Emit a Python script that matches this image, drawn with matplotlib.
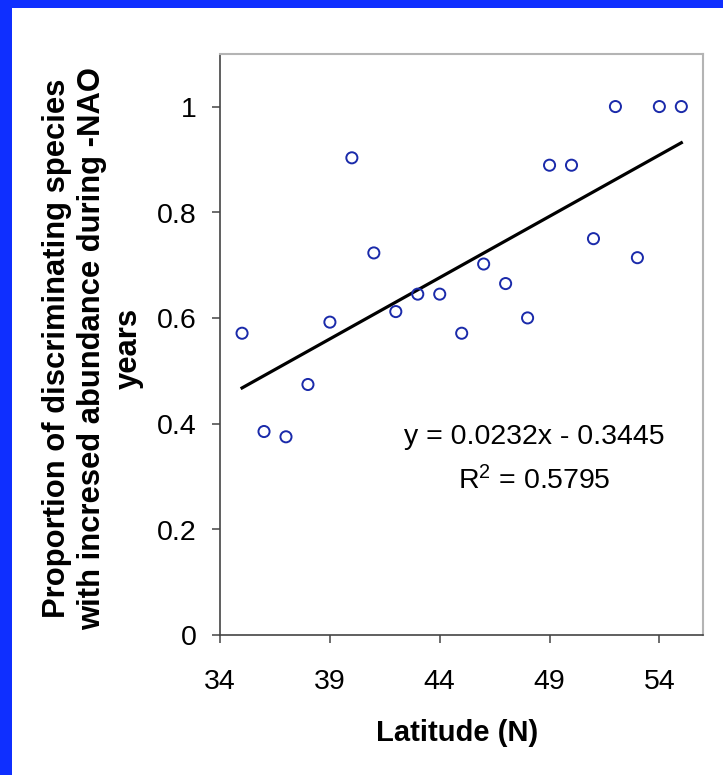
import matplotlib
matplotlib.use("Agg")
import matplotlib.pyplot as plt
from matplotlib.patches import Rectangle

plt.rcParams['font.family'] = ['Liberation Sans', 'DejaVu Sans']
plt.rcParams['mathtext.fontset'] = 'custom'
plt.rcParams['mathtext.rm'] = 'Liberation Sans'
plt.rcParams['mathtext.it'] = 'Liberation Sans:italic'

# Latitude of each site and the proportion of discriminating species
latitude = [35, 36, 37, 38, 39, 40, 41, 42, 43, 44, 45,
            46, 47, 48, 49, 50, 51, 52, 53, 54, 55]
proportion = [0.571, 0.385, 0.375, 0.474, 0.592, 0.903, 0.723, 0.612, 0.645, 0.645, 0.571,
              0.702, 0.665, 0.600, 0.889, 0.889, 0.750, 1.000, 0.714, 1.000, 1.000]

# Linear trend line coefficients
slope = 0.0232
intercept = -0.3445
r_squared = 0.5795

x_ticks = [34, 39, 44, 49, 54]
y_ticks = [0, 0.2, 0.4, 0.6, 0.8, 1]
y_tick_labels = ['0', '0.2', '0.4', '0.6', '0.8', '1']

W, H = 723, 775
# a fraction of a pixel extra keeps the canvas from being truncated to W-1 / H-1
fig = plt.figure(figsize=((W + 0.3) / 100, (H + 0.3) / 100), dpi=100)
fig.patch.set_facecolor('white')

# Blue frame along the top and left edges
frame_blue = '#0F2FFF'
fig.add_artist(Rectangle((0, 1 - 8 / H), 1, 8 / H + 0.01, transform=fig.transFigure,
                         facecolor=frame_blue, edgecolor='none', linewidth=0, zorder=0))
fig.add_artist(Rectangle((-0.01, 0), 12 / W + 0.01, 1, transform=fig.transFigure,
                         facecolor=frame_blue, edgecolor='none', linewidth=0, zorder=0))

left, right, top, bottom = 220, 703, 54, 635
ax = fig.add_axes([left / W, 1 - bottom / H, (right - left) / W, (bottom - top) / H])

ax.scatter(latitude, proportion, s=8.0 ** 2, facecolors='none', edgecolors='#1A2AAA',
           linewidths=1.4, zorder=3)

x_fit = [min(latitude), max(latitude)]
y_fit = [slope * x + intercept for x in x_fit]
ax.plot(x_fit, y_fit, color='black', linewidth=2.3, zorder=2)

ax.set_xlim(34, 56)
ax.set_ylim(0, 1.1)
ax.set_xticks(x_ticks)
ax.set_xticklabels([str(t) for t in x_ticks])
ax.set_yticks(y_ticks)
ax.set_yticklabels(y_tick_labels)

ax.tick_params(axis='both', direction='out', length=6, width=1.1, colors='#444444',
               labelcolor='black', labelsize=20.5)
ax.tick_params(axis='y', pad=11)
ax.tick_params(axis='x', pad=18)

for side in ('left', 'bottom'):
    ax.spines[side].set_color('#444444')
    ax.spines[side].set_linewidth(1.2)
for side in ('top', 'right'):
    ax.spines[side].set_color('#B4B4B4')
    ax.spines[side].set_linewidth(1.5)

sign = '-' if intercept < 0 else '+'
ax.text(48.3, 0.361, f'y = {slope:.4f}x {sign} {abs(intercept):.4f}', ha='center',
        va='baseline', fontsize=20.5)
ax.text(48.3, 0.276, r'R$^{2}$' + f' = {r_squared:.4f}', ha='center', va='baseline',
        fontsize=20.5)

fig.text(457 / W, 1 - 741 / H, 'Latitude (N)', ha='center', va='baseline',
         fontsize=21, fontweight='bold')
fig.text(92.5 / W, 1 - 348 / H,
         'Proportion of discriminating species\nwith incresed abundance during -NAO\nyears',
         ha='center', va='center', rotation=90, multialignment='center',
         fontsize=22.3, fontweight='bold', linespacing=1.25)

fig.savefig('out.png', dpi=100, facecolor='white')
